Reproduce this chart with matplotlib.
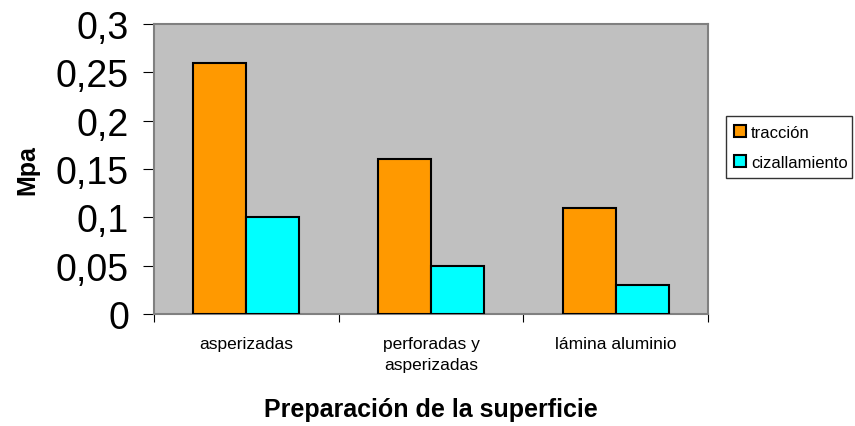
import matplotlib
matplotlib.use("Agg")
import matplotlib.pyplot as plt
import numpy as np

categories = ["asperizadas", "perforadas y\nasperizadas", "lámina aluminio"]
traccion = [0.26, 0.16, 0.11]
cizallamiento = [0.10, 0.05, 0.03]
yticks = [0, 0.05, 0.1, 0.15, 0.2, 0.25, 0.3]
ytick_labels = ["0", "0,05", "0,1", "0,15", "0,2", "0,25", "0,3"]

plt.rcParams['font.family'] = ['Liberation Sans', 'DejaVu Sans']

fig = plt.figure(figsize=(8.55, 4.27), dpi=100)
W, H = 855, 427
ax = fig.add_axes([154 / W, 1 - 315 / H, (708 - 154) / W, (315 - 25) / H])
ax.set_facecolor("#C0C0C0")

x = np.arange(len(categories))
bw = 0.287
ax.bar(x - bw / 2, traccion, bw, color="#FF9900", edgecolor="black", linewidth=1.5, label="tracción", zorder=3)
ax.bar(x + bw / 2, cizallamiento, bw, color="#00FFFF", edgecolor="black", linewidth=1.5, label="cizallamiento", zorder=3)

ax.set_xlim(-0.5, len(categories) - 0.5)
ax.set_ylim(0, 0.3)
ax.set_yticks(yticks)
ax.set_yticklabels(ytick_labels, fontsize=27)
ax.set_xticks(np.arange(len(categories) + 1) - 0.5)
ax.set_xticklabels([])
ax.set_xticks(x, minor=True)
ax.set_xticklabels(categories, minor=True, fontsize=12.5, linespacing=1.5)
ax.tick_params(axis='x', which='minor', length=0, pad=16)
ax.tick_params(axis='x', which='major', length=6, direction='out', color='black')
ax.tick_params(axis='y', length=8, direction='out', color='black', pad=10)

for s in ax.spines.values():
    s.set_color("#808080")
    s.set_linewidth(1.5)

ax.set_ylabel("Mpa", fontsize=18, fontweight='bold', labelpad=12)
ax.set_xlabel("Preparación de la superficie", fontsize=18, fontweight='bold', labelpad=18)

leg = ax.legend(loc='center left', bbox_to_anchor=(726 / W, 1 - 179 / H, (852 - 726) / W, (179 - 117) / H),
                bbox_transform=fig.transFigure, mode='expand', fontsize=12, frameon=True, fancybox=False,
                edgecolor='black', handlelength=0.7, handleheight=0.7, handletextpad=0.3,
                borderaxespad=0, borderpad=0.5, labelspacing=0.9)
leg.get_frame().set_linewidth(1.0)

fig.savefig("out.png", dpi=100)
